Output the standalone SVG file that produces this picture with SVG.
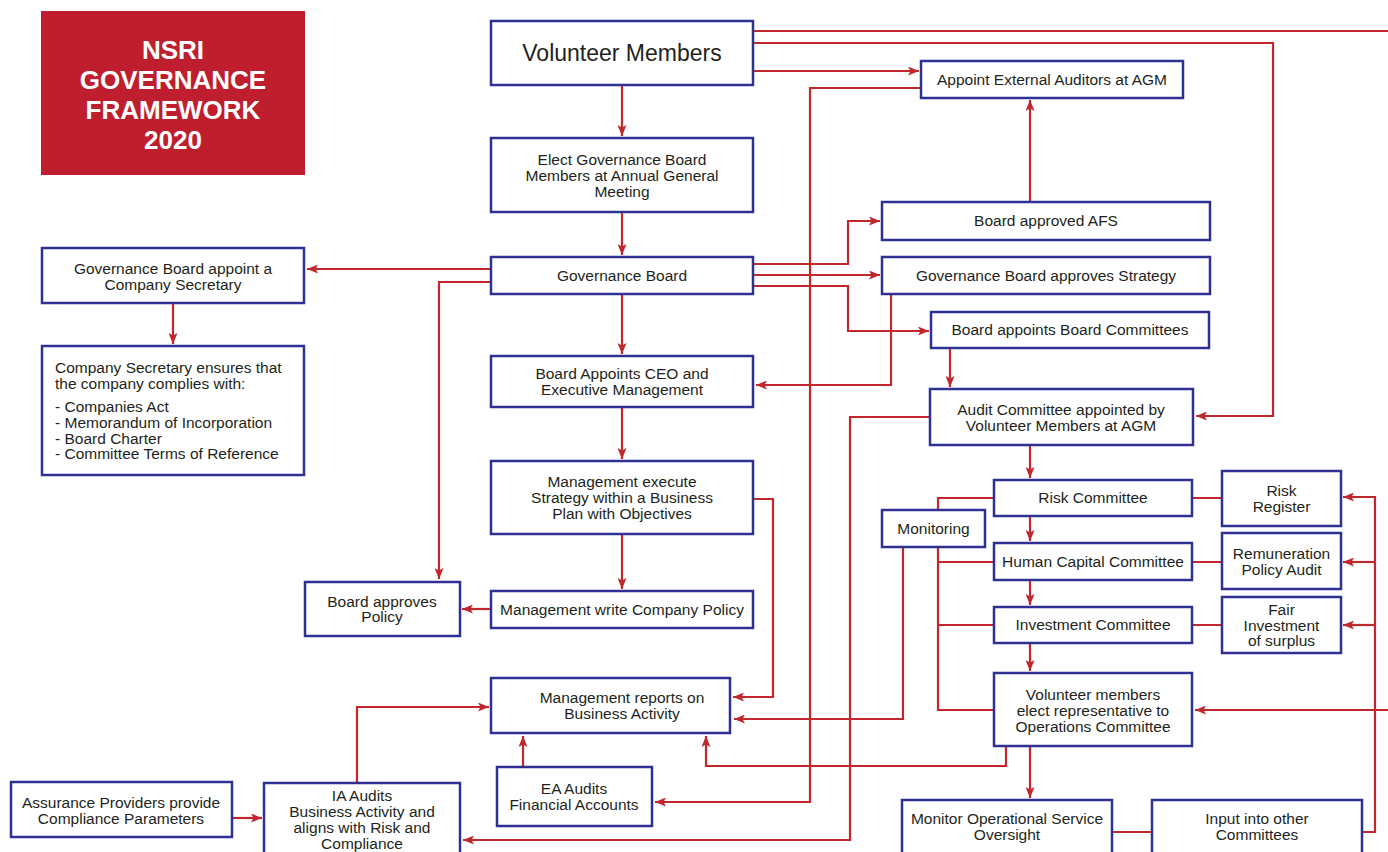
<svg xmlns="http://www.w3.org/2000/svg" width="1388" height="852" viewBox="0 0 1388 852">
<defs>
<marker id="ah" markerUnits="userSpaceOnUse" markerWidth="11" markerHeight="9" refX="11" refY="4.5" orient="auto">
<path d="M0,0 L11,4.5 L0,9 L2.5,4.5 z" fill="#c1272d"/>
</marker>
<style>
.n{fill:#fff;stroke:#2e3192;stroke-width:2.5}
.t{font-family:"Liberation Sans",Arial,sans-serif;font-size:15.5px;fill:#231f20;text-anchor:middle}
.tl{font-family:"Liberation Sans",Arial,sans-serif;font-size:15.5px;fill:#231f20}
.c{fill:none;stroke:#c1272d;stroke-width:2.2}
.a{marker-end:url(#ah)}
.title{font-family:"Liberation Sans",Arial,sans-serif;font-size:26px;font-weight:bold;fill:#fff;text-anchor:middle}
</style>
</defs>
<rect width="1388" height="852" fill="#fff"/>

<g id="connectors">
<path class="c a" d="M622,85 V136"/>
<path class="c a" d="M622,212 V255"/>
<path class="c a" d="M622,294 V354"/>
<path class="c a" d="M622,407 V459"/>
<path class="c a" d="M622,534 V589"/>
<path class="c" d="M753,31 H1388"/>
<path class="c a" d="M753,43 H1273 V416 H1196"/>
<path class="c a" d="M753,71 H919"/>
<path class="c a" d="M921,88 H810 V802 H655"/>
<path class="c a" d="M753,264 H848 V221 H880"/>
<path class="c a" d="M753,275 H880"/>
<path class="c a" d="M753,286 H848 V331 H929"/>
<path class="c a" d="M891,294 V385 H756"/>
<path class="c a" d="M491,269 H307"/>
<path class="c a" d="M491,282 H439 V579"/>
<path class="c a" d="M491,609 H462"/>
<path class="c a" d="M173,303 V344"/>
<path class="c a" d="M753,499 H773 V697 H733"/>
<path class="c a" d="M950,348 V387"/>
<path class="c a" d="M930,417 H850 V840 H463"/>
<path class="c a" d="M1030,445 V478"/>
<path class="c a" d="M1030,516 V541"/>
<path class="c a" d="M1030,580 V605"/>
<path class="c a" d="M1030,643 V671"/>
<path class="c a" d="M1030,746 V798"/>
<path class="c a" d="M1030,202 V100"/>
<path class="c" d="M994,498 H938 V710 H994 M938,562 H994 M938,625 H994"/>
<path class="c a" d="M903,547 V719 H734"/>
<path class="c a" d="M1006,746 V766 H706 V736"/>
<path class="c" d="M1192,498 H1222 M1192,562 H1222 M1192,625 H1222 M1112,832 H1152"/>
<path class="c a" d="M1362,832 H1375 V497 H1343"/>
<path class="c a" d="M1375,562 H1343"/>
<path class="c a" d="M1375,625 H1343"/>
<path class="c a" d="M1388,710 H1195"/>
<path class="c a" d="M523,767 V736"/>
<path class="c a" d="M357,783 V707 H489"/>
<path class="c a" d="M232,818 H262"/>
</g>

<g id="title">
<rect x="41" y="11" width="264" height="164" fill="#bf1e2e"/>
<text class="title" x="173" y="59">NSRI</text>
<text class="title" x="173" y="89">GOVERNANCE</text>
<text class="title" x="173" y="119">FRAMEWORK</text>
<text class="title" x="173" y="149">2020</text>
</g>

<g id="volunteer-members">
<rect class="n" x="491" y="21" width="262" height="64"/>
<text class="t" x="622" y="61" style="font-size:23px">Volunteer Members</text>
</g>

<g id="elect-board">
<rect class="n" x="491" y="138" width="262" height="74"/>
<text class="t" x="622" y="165">Elect Governance Board</text>
<text class="t" x="622" y="181">Members at Annual General</text>
<text class="t" x="622" y="197">Meeting</text>
</g>

<g id="governance-board">
<rect class="n" x="491" y="257" width="262" height="37"/>
<text class="t" x="622" y="281">Governance Board</text>
</g>

<g id="board-appoints-ceo">
<rect class="n" x="491" y="356" width="262" height="51"/>
<text class="t" x="622" y="379">Board Appoints CEO and</text>
<text class="t" x="622" y="395">Executive Management</text>
</g>

<g id="management-execute">
<rect class="n" x="491" y="461" width="262" height="73"/>
<text class="t" x="622" y="487">Management execute</text>
<text class="t" x="622" y="503">Strategy within a Business</text>
<text class="t" x="622" y="519">Plan with Objectives</text>
</g>

<g id="management-policy">
<rect class="n" x="491" y="591" width="262" height="37"/>
<text class="t" x="622" y="615">Management write Company Policy</text>
</g>

<g id="management-reports">
<rect class="n" x="491" y="678" width="239" height="55"/>
<text class="t" x="622" y="703">Management reports on</text>
<text class="t" x="622" y="719">Business Activity</text>
</g>

<g id="ea-audits">
<rect class="n" x="497" y="767" width="155" height="59"/>
<text class="t" x="574" y="794">EA Audits</text>
<text class="t" x="574" y="810">Financial Accounts</text>
</g>

<g id="appoint-cs">
<rect class="n" x="42" y="248" width="262" height="55"/>
<text class="t" x="173" y="274">Governance Board appoint a</text>
<text class="t" x="173" y="290">Company Secretary</text>
</g>

<g id="company-secretary">
<rect class="n" x="42" y="346" width="262" height="129"/>
<text class="tl" x="55" y="373">Company Secretary ensures that</text>
<text class="tl" x="55" y="389">the company complies with:</text>
<text class="tl" x="55" y="412">- Companies Act</text>
<text class="tl" x="55" y="428">- Memorandum of Incorporation</text>
<text class="tl" x="55" y="444">- Board Charter</text>
<text class="tl" x="55" y="459">- Committee Terms of Reference</text>
</g>

<g id="board-approves-policy">
<rect class="n" x="305" y="582" width="155" height="54"/>
<text class="t" x="382" y="607">Board approves</text>
<text class="t" x="382" y="622">Policy</text>
</g>

<g id="assurance-providers">
<rect class="n" x="11" y="782" width="221" height="55"/>
<text class="t" x="121" y="808">Assurance Providers provide</text>
<text class="t" x="121" y="824">Compliance Parameters</text>
</g>

<g id="ia-audits">
<rect class="n" x="264" y="783" width="196" height="80"/>
<text class="t" x="362" y="801">IA Audits</text>
<text class="t" x="362" y="817">Business Activity and</text>
<text class="t" x="362" y="833">aligns with Risk and</text>
<text class="t" x="362" y="849">Compliance</text>
</g>

<g id="appoint-external-auditors">
<rect class="n" x="921" y="61" width="262" height="37"/>
<text class="t" x="1052" y="85">Appoint External Auditors at AGM</text>
</g>

<g id="board-approved-afs">
<rect class="n" x="882" y="202" width="328" height="38"/>
<text class="t" x="1046" y="226">Board approved AFS</text>
</g>

<g id="board-approves-strategy">
<rect class="n" x="882" y="257" width="328" height="37"/>
<text class="t" x="1046" y="281">Governance Board approves Strategy</text>
</g>

<g id="board-committees">
<rect class="n" x="931" y="312" width="278" height="36"/>
<text class="t" x="1070" y="335">Board appoints Board Committees</text>
</g>

<g id="audit-committee">
<rect class="n" x="930" y="389" width="263" height="56"/>
<text class="t" x="1061" y="415">Audit Committee appointed by</text>
<text class="t" x="1061" y="431">Volunteer Members at AGM</text>
</g>

<g id="risk-committee">
<rect class="n" x="994" y="480" width="198" height="36"/>
<text class="t" x="1093" y="503">Risk Committee</text>
</g>

<g id="monitoring">
<rect class="n" x="882" y="510" width="103" height="37"/>
<text class="t" x="933.5" y="534">Monitoring</text>
</g>

<g id="human-capital">
<rect class="n" x="994" y="543" width="198" height="37"/>
<text class="t" x="1093" y="567">Human Capital Committee</text>
</g>

<g id="investment">
<rect class="n" x="994" y="607" width="198" height="36"/>
<text class="t" x="1093" y="630">Investment Committee</text>
</g>

<g id="volunteer-elect">
<rect class="n" x="994" y="673" width="198" height="73"/>
<text class="t" x="1093" y="700">Volunteer members</text>
<text class="t" x="1093" y="716">elect representative to</text>
<text class="t" x="1093" y="732">Operations Committee</text>
</g>

<g id="risk-register">
<rect class="n" x="1222" y="471" width="119" height="55"/>
<text class="t" x="1281.5" y="496">Risk</text>
<text class="t" x="1281.5" y="512">Register</text>
</g>

<g id="remuneration">
<rect class="n" x="1222" y="533" width="119" height="56"/>
<text class="t" x="1281.5" y="559">Remuneration</text>
<text class="t" x="1281.5" y="575">Policy Audit</text>
</g>

<g id="fair-investment">
<rect class="n" x="1222" y="597" width="119" height="56"/>
<text class="t" x="1281.5" y="615">Fair</text>
<text class="t" x="1281.5" y="631">Investment</text>
<text class="t" x="1281.5" y="646">of surplus</text>
</g>

<g id="monitor-operational">
<rect class="n" x="902" y="800" width="210" height="63"/>
<text class="t" x="1007" y="824">Monitor Operational Service</text>
<text class="t" x="1007" y="840">Oversight</text>
</g>

<g id="input-committees">
<rect class="n" x="1152" y="800" width="210" height="63"/>
<text class="t" x="1257" y="824">Input into other</text>
<text class="t" x="1257" y="840">Committees</text>
</g>
</svg>
